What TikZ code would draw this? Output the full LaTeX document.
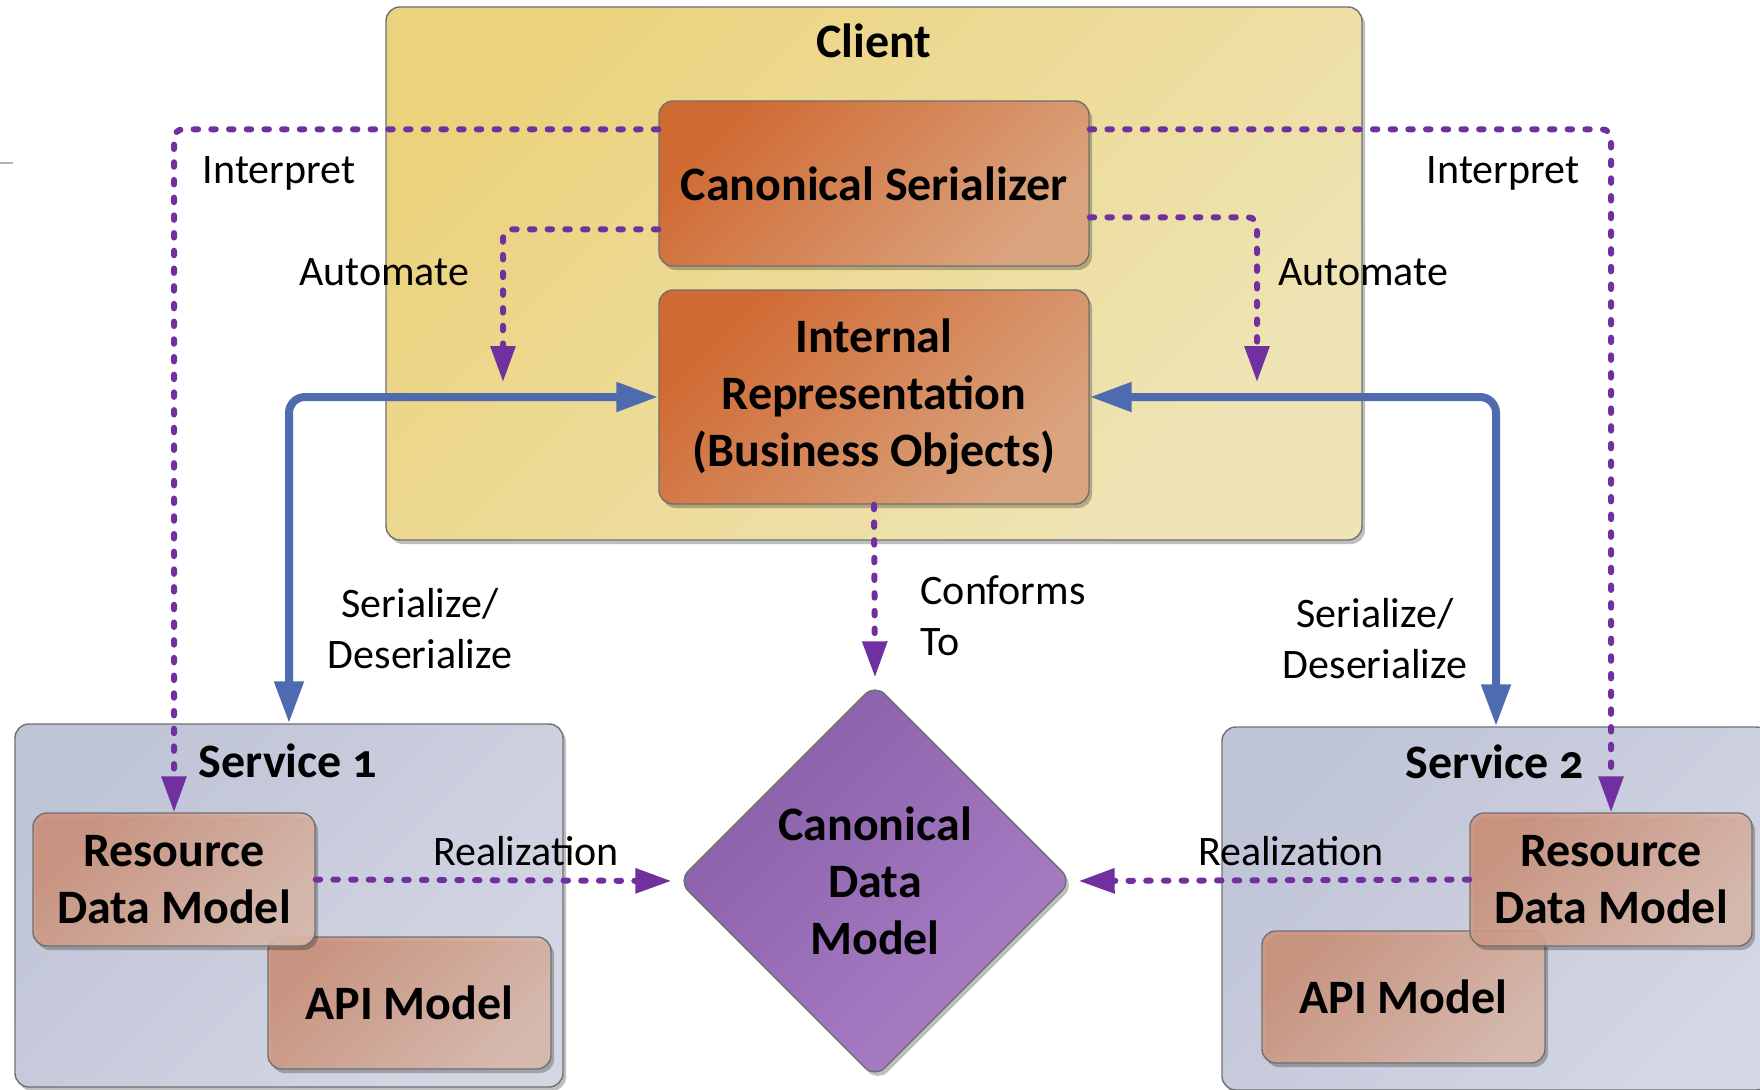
\documentclass[tikz,border=0pt]{standalone}
\usepackage{fontspec}
\setmainfont{Carlito}[Numbers=OldStyle]
\usetikzlibrary{arrows.meta,shapes.geometric,shadows,calc}

\definecolor{clientA}{HTML}{EBD37E}
\definecolor{clientB}{HTML}{EEE4B6}
\definecolor{orangeA}{HTML}{D06A33}
\definecolor{orangeB}{HTML}{DAA47F}
\definecolor{svcA}{HTML}{BFC4D7}
\definecolor{svcB}{HTML}{D3D6E3}
\definecolor{salmonA}{HTML}{CF937B}
\definecolor{salmonB}{HTML}{DDBCAE}
\definecolor{diaA}{HTML}{885EA8}
\definecolor{diaB}{HTML}{AA80C7}
\definecolor{flowpurple}{HTML}{7030A0}
\definecolor{flowblue}{HTML}{4F6BB0}
\definecolor{edgegray}{HTML}{707070}

\tikzset{
  boxshade/.style 2 args={top color=#1, bottom color=#2, shading angle=45},
  panel/.style={draw=edgegray, line width=1.4pt, rounded corners=14pt, inner sep=0pt},
  shadowed/.style={drop shadow={shadow xshift=3pt, shadow yshift=-4pt, opacity=0.25, fill=black}},
  seethrough/.style={fill opacity=0.88, draw opacity=1, text opacity=1},
  boxtext/.style={font=\bfseries\fontsize{48}{57}\selectfont, align=center, text=black},
  title/.style={font=\bfseries\fontsize{48}{57}\selectfont, anchor=base},
  lbl/.style={font=\fontsize{42}{51}\selectfont, align=center, anchor=base},
  dotline/.style={draw=flowpurple, line width=6pt, line cap=round,
    dash pattern=on 4.5pt off 13.2pt, rounded corners=9pt,
    -{Triangle[length=36pt,width=24pt]}},
  bluelink/.style={draw=flowblue, line width=8pt, rounded corners=16pt,
    {Triangle[length=42pt,width=28pt]}-{Triangle[length=42pt,width=28pt]}},
}

\begin{document}
\begin{tikzpicture}[x=1pt, y=-1pt]
  \clip (0,0) rectangle (1760,1089);
  \fill[white] (0,0) rectangle (1760,1089);

  % stray tick on the left margin
  \draw[gray!60, line width=1.5pt] (0,163) -- (13,163);

  % client container and its components
  \node[panel, boxshade={clientA}{clientB}, shadowed,
        minimum width=976, minimum height=533] (client) at (874,273.5) {};
  \node[title] (clienttitle) at (874,58) {Client};

  \node[panel, boxshade={orangeA}{orangeB}, shadowed, boxtext,
        minimum width=430, minimum height=165] (ser) at (874,183.5) {Canonical Serializer};
  \node[panel, boxshade={orangeA}{orangeB}, shadowed, boxtext,
        minimum width=430, minimum height=214] (irep) at (874,397)
        {Internal\\Representation\\(Business Objects)};

  % service containers
  \node[panel, boxshade={svcA}{svcB}, shadowed,
        minimum width=548, minimum height=363] (svc1) at (289,905.5) {};
  \node[title] (svc1title) at (288,777) {Service 1};
  \node[panel, boxshade={svcA}{svcB}, shadowed,
        minimum width=548, minimum height=363] (svc2) at (1496,908.5) {};
  \node[title] (svc2title) at (1495,778) {Service 2};

  \node[panel, boxshade={salmonA}{salmonB}, seethrough, shadowed, boxtext,
        minimum width=283, minimum height=132] (api1) at (409.5,1003) {API Model};
  \node[panel, boxshade={salmonA}{salmonB}, seethrough, shadowed, boxtext,
        minimum width=282, minimum height=133] (rdm1) at (174,879.5) {Resource\\Data Model};

  \node[panel, boxshade={salmonA}{salmonB}, seethrough, shadowed, boxtext,
        minimum width=283, minimum height=132] (api2) at (1403.5,997) {API Model};
  \node[panel, boxshade={salmonA}{salmonB}, seethrough, shadowed, boxtext,
        minimum width=282, minimum height=133] (rdm2) at (1611,879.5) {Resource\\Data Model};

  % canonical data model
  \node[diamond, aspect=1, draw=edgegray, line width=1.4pt, rounded corners=14pt,
        boxshade={diaA}{diaB}, shadowed, boxtext, inner sep=0pt,
        minimum width=394, minimum height=394] (cdm) at (875,881)
        {Canonical\\Data\\Model};

  % free ends of the automation arrows
  \coordinate (autoL) at (503,382);
  \coordinate (autoR) at (1257,382);

  % serialization links
  \draw[bluelink] (irep.west) -| (svc1.north);
  \draw[bluelink] (irep.east) -| (svc2.north);

  % dotted dependency links
  \draw[dotline] ($(ser.north west)+(0,29)$) -| (rdm1.north);
  \draw[dotline] ($(ser.north east)+(0,29)$) -| (rdm2.north);
  \draw[dotline] ($(ser.north west)+(0,129)$) -| (autoL);
  \draw[dotline] ($(ser.north east)+(0,117)$) -| (autoR);
  \draw[dotline, shorten >=6pt] (irep.south) -- (cdm.north);
  \draw[dotline, shorten >=6pt] (rdm1.east) -- (cdm.west);
  \draw[dotline, shorten >=6pt] (rdm2.west) -- (cdm.east);

  % connector labels (multi-line labels are placed by their last baseline)
  \node[lbl] (lint1) at (279,183) {Interpret};
  \node[lbl] (lint2) at (1503,183) {Interpret};
  \node[lbl] (laut1) at (384,285) {Automate};
  \node[lbl] (laut2) at (1363,285) {Automate};
  \node[lbl] (lser1) at (420,668) {Serialize/\\Deserialize};
  \node[lbl] (lser2) at (1375,678) {Serialize/\\Deserialize};
  \node[lbl, align=left, anchor=base west] (lconf) at (917,655) {Conforms\\To};
  \node[lbl] (lrea1) at (526,865) {Realization};
  \node[lbl] (lrea2) at (1291,865) {Realization};
\end{tikzpicture}
\end{document}
